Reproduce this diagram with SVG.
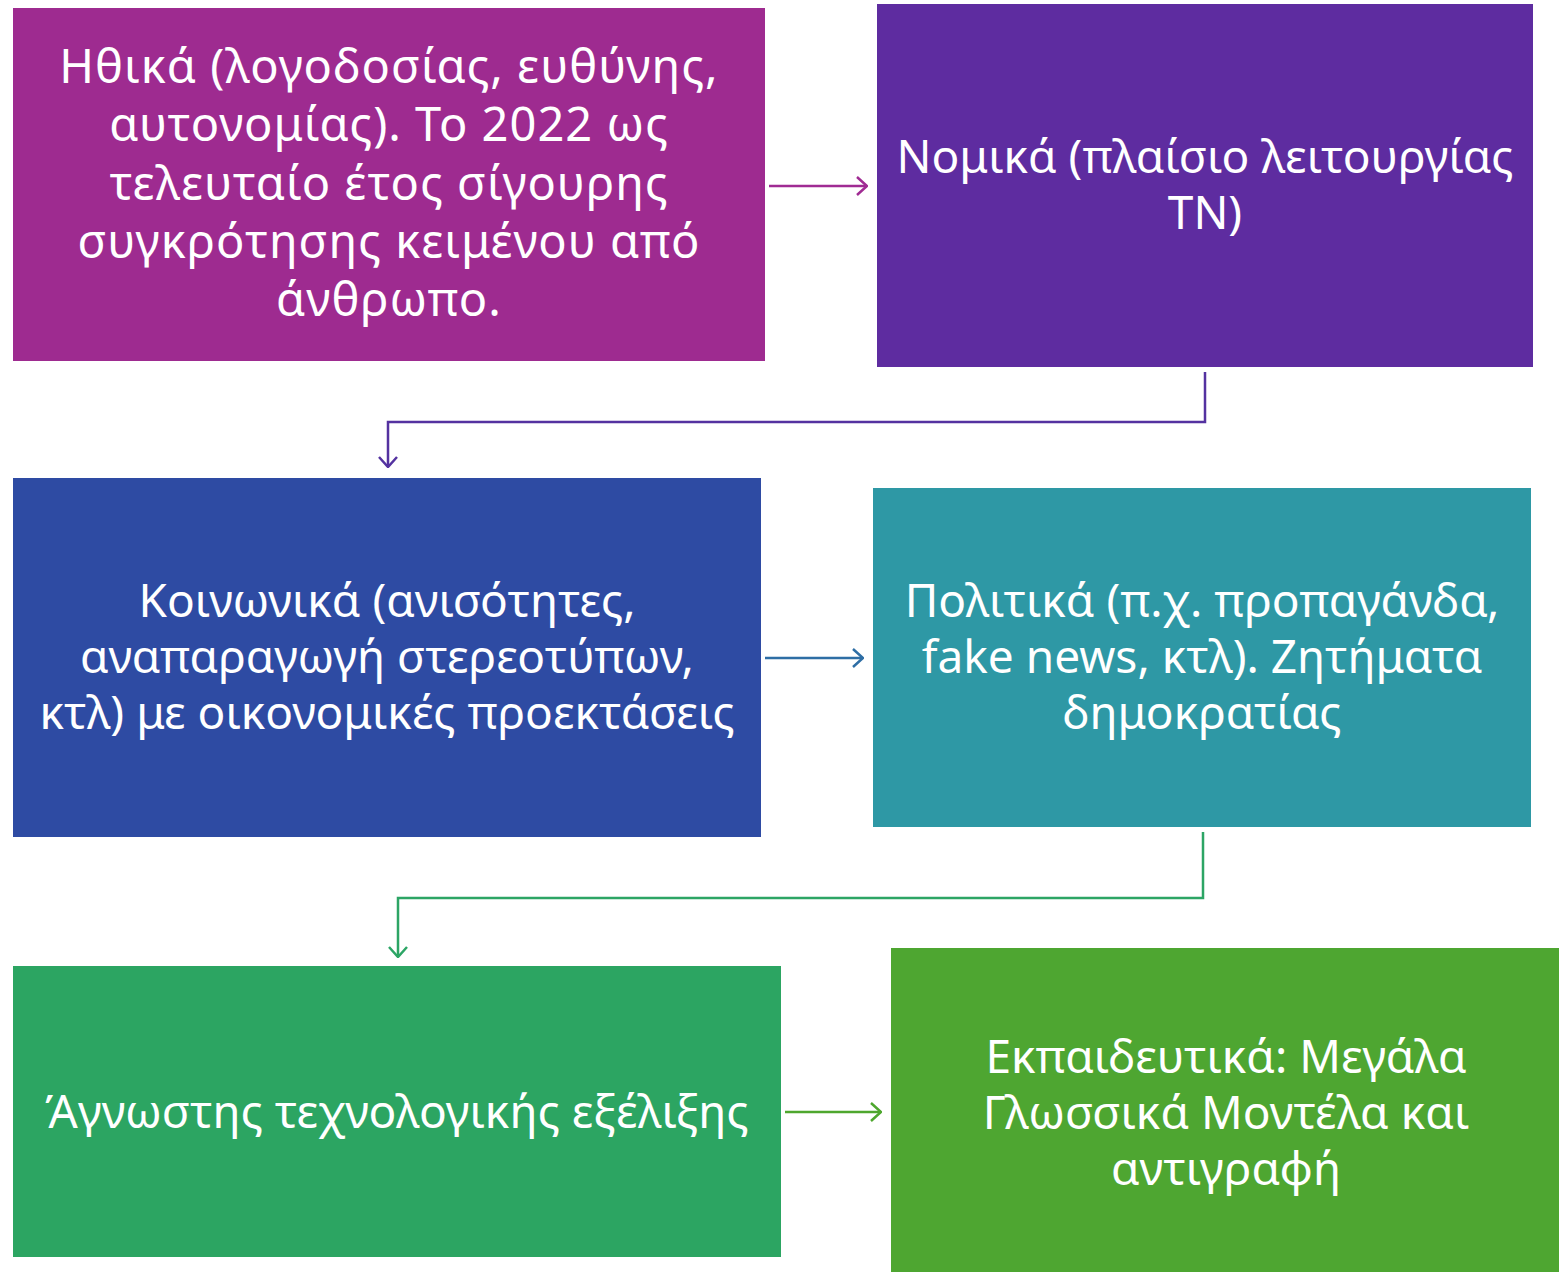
<svg xmlns="http://www.w3.org/2000/svg" width="1565" height="1273" viewBox="0 0 1565 1273">
<style>
text{font-family:"Noto Sans","Open Sans","DejaVu Sans",sans-serif;font-size:46px;fill:#fff;text-anchor:middle}
.big{font-size:47px;letter-spacing:1px}
.c{fill:none;stroke-width:2.5}
</style>
<defs>
<marker id="m1" viewBox="0 0 12 20" refX="11" refY="10" markerWidth="12" markerHeight="20" markerUnits="userSpaceOnUse" orient="auto"><path d="M1,1 L11,10 L1,19" fill="none" stroke="#A02B93" stroke-width="2.5"/></marker>
<marker id="m2" viewBox="0 0 12 20" refX="11" refY="10" markerWidth="12" markerHeight="20" markerUnits="userSpaceOnUse" orient="auto"><path d="M1,1 L11,10 L1,19" fill="none" stroke="#5432A0" stroke-width="2.5"/></marker>
<marker id="m3" viewBox="0 0 12 20" refX="11" refY="10" markerWidth="12" markerHeight="20" markerUnits="userSpaceOnUse" orient="auto"><path d="M1,1 L11,10 L1,19" fill="none" stroke="#2E6EA5" stroke-width="2.5"/></marker>
<marker id="m4" viewBox="0 0 12 20" refX="11" refY="10" markerWidth="12" markerHeight="20" markerUnits="userSpaceOnUse" orient="auto"><path d="M1,1 L11,10 L1,19" fill="none" stroke="#2CA565" stroke-width="2.5"/></marker>
<marker id="m5" viewBox="0 0 12 20" refX="11" refY="10" markerWidth="12" markerHeight="20" markerUnits="userSpaceOnUse" orient="auto"><path d="M1,1 L11,10 L1,19" fill="none" stroke="#4EA72E" stroke-width="2.5"/></marker>
</defs>
<rect width="1565" height="1273" fill="#fff"/>
<g id="n1">
<rect x="13" y="8" width="752" height="353" fill="#9E2B90"/>
<text class="big" x="389" y="83">Ηθικά (λογοδοσίας, ευθύνης,</text>
<text class="big" x="389" y="141">αυτονομίας). Το 2022 ως</text>
<text class="big" x="389" y="200">τελευταίο έτος σίγουρης</text>
<text class="big" x="389" y="258">συγκρότησης κειμένου από</text>
<text class="big" x="389" y="316">άνθρωπο.</text>
</g>
<g id="n2">
<rect x="877" y="4" width="656" height="363" fill="#5E2CA0"/>
<text x="1205" y="173">Νομικά (πλαίσιο λειτουργίας</text>
<text x="1205" y="229">ΤΝ)</text>
</g>
<g id="n3">
<rect x="13" y="478" width="748" height="359" fill="#2E4BA3"/>
<text x="387" y="617">Κοινωνικά (ανισότητες,</text>
<text x="387" y="673">αναπαραγωγή στερεοτύπων,</text>
<text x="387" y="729">κτλ) με οικονομικές προεκτάσεις</text>
</g>
<g id="n4">
<rect x="873" y="488" width="658" height="339" fill="#2E98A5"/>
<text x="1202" y="617">Πολιτικά (π.χ. προπαγάνδα,</text>
<text x="1202" y="673">fake news, κτλ). Ζητήματα</text>
<text x="1202" y="729">δημοκρατίας</text>
</g>
<g id="n5">
<rect x="13" y="966" width="768" height="291" fill="#2CA562"/>
<text x="397" y="1128">Άγνωστης τεχνολογικής εξέλιξης</text>
</g>
<g id="n6">
<rect x="891" y="948" width="668" height="324" fill="#4EA631"/>
<text x="1226" y="1073">Εκπαιδευτικά: Μεγάλα</text>
<text x="1226" y="1129">Γλωσσικά Μοντέλα και</text>
<text x="1226" y="1185">αντιγραφή</text>
</g>
<g id="connectors">
<path class="c" d="M769,186 H867" stroke="#A02B93" marker-end="url(#m1)"/>
<path class="c" d="M1205,372 V422 H388 V467" stroke="#5432A0" marker-end="url(#m2)"/>
<path class="c" d="M765,658 H863" stroke="#2E6EA5" marker-end="url(#m3)"/>
<path class="c" d="M1203,832 V898 H398 V957" stroke="#2CA565" marker-end="url(#m4)"/>
<path class="c" d="M785,1112 H881" stroke="#4EA72E" marker-end="url(#m5)"/>
</g>
</svg>
